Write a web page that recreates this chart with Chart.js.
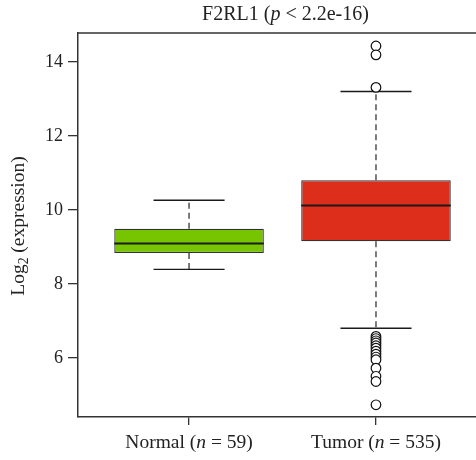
<!DOCTYPE html>
<html>
<head>
<meta charset="utf-8">
<script src="https://cdn.jsdelivr.net/npm/chart.js@4"></script>
<style>
  html, body { margin: 0; padding: 0; background: #fff; overflow: hidden; }
  #wrap { width: 476px; height: 460px; }
</style>
</head>
<body>
<div id="wrap"><canvas id="boxChart"></canvas></div>
<script>
// F2RL1 expression, normal vs tumor
var categories = ['Normal', 'Tumor'];
var sampleSizes = [59, 535];
var lowerWhisker = [8.39, 6.80];
var q1 = [8.83, 9.15];
var medians = [9.09, 10.12];
var q3 = [9.49, 10.80];
var upperWhisker = [10.26, 13.20];
var tumorOutliers = [14.43, 14.19, 13.31, 6.58, 6.52, 6.46, 6.40, 6.33, 6.26, 6.18, 6.10, 6.02, 5.95, 5.72, 5.50, 5.36, 4.73];
var yTicks = [6, 8, 10, 12, 14];
var boxColors = ['#76c500', '#dd2d1b'];

var serif = '"Liberation Serif", "DejaVu Serif", serif';
var ink = '#222';

var boxData = categories.map(function (c, i) { return { x: i + 1, y: [q1[i], q3[i]] }; });

var whiskerData = [], capData = [], medianData = [];
categories.forEach(function (c, i) {
    var x = i + 1;
    whiskerData.push({ x: x, y: q3[i] }, { x: x, y: upperWhisker[i] }, { x: x, y: null });
    whiskerData.push({ x: x, y: q1[i] }, { x: x, y: lowerWhisker[i] }, { x: x, y: null });
    capData.push({ x: x - 0.19, y: upperWhisker[i] }, { x: x + 0.19, y: upperWhisker[i] }, { x: x, y: null });
    capData.push({ x: x - 0.19, y: lowerWhisker[i] }, { x: x + 0.19, y: lowerWhisker[i] }, { x: x, y: null });
    medianData.push({ x: x - 0.4, y: medians[i] }, { x: x + 0.4, y: medians[i] }, { x: x, y: null });
});
var outlierData = tumorOutliers.map(function (v) { return { x: 2, y: v }; });

// draws a string made of pieces with their own font styles, centred on cx
function drawPieces(ctx, pieces, cx, cy, size) {
    var total = 0;
    pieces.forEach(function (p) {
        ctx.font = (p.italic ? 'italic ' : '') + (p.sub ? size * 0.7 : size) + 'px ' + serif;
        p.w = ctx.measureText(p.t).width;
        total += p.w;
    });
    var x = cx - total / 2;
    ctx.textAlign = 'left';
    ctx.textBaseline = 'middle';
    pieces.forEach(function (p) {
        ctx.font = (p.italic ? 'italic ' : '') + (p.sub ? size * 0.7 : size) + 'px ' + serif;
        ctx.fillText(p.t, x, cy + (p.sub ? size * 0.3 : 0));
        x += p.w;
    });
}

var textPlugin = {
    id: 'textPlugin',
    afterDraw: function (chart) {
        var ctx = chart.ctx;
        var area = chart.chartArea;
        var xs = chart.scales.x;
        ctx.save();
        // top frame line
        ctx.strokeStyle = '#333';
        ctx.lineWidth = 1.5;
        ctx.beginPath();
        ctx.moveTo(area.left, area.top);
        ctx.lineTo(area.right, area.top);
        ctx.stroke();

        ctx.fillStyle = ink;
        drawPieces(ctx, [{ t: 'F2RL1 (' }, { t: 'p', italic: true }, { t: ' < 2.2e-16)' }], xs.getPixelForValue(1.5) + 3, 15, 20);

        categories.forEach(function (c, i) {
            drawPieces(ctx, [{ t: c + ' (' }, { t: 'n', italic: true }, { t: ' = ' + sampleSizes[i] + ')' }],
                xs.getPixelForValue(i + 1), area.bottom + 26, 19.5);
        });

        ctx.translate(19, 226);
        ctx.rotate(-Math.PI / 2);
        drawPieces(ctx, [{ t: 'Log' }, { t: '2', sub: true }, { t: ' (expression)' }], 0, 0, 19.5);
        ctx.restore();
    }
};

var ctx = document.getElementById('boxChart').getContext('2d');
var myChart = new Chart(ctx, {
    type: 'bar',
    data: {
        datasets: [{
            type: 'line',
            data: medianData,
            borderColor: '#1a1a1a',
            borderWidth: 2,
            pointRadius: 0,
            order: 1
        }, {
            type: 'scatter',
            data: outlierData,
            pointRadius: 4.8,
            pointBackgroundColor: '#fff',
            pointBorderColor: '#111',
            pointBorderWidth: 1.2,
            order: 1
        }, {
            type: 'line',
            data: capData,
            borderColor: '#1a1a1a',
            borderWidth: 1.4,
            pointRadius: 0,
            order: 2
        }, {
            type: 'line',
            data: whiskerData,
            borderColor: '#444',
            borderWidth: 1.4,
            borderDash: [6, 4],
            pointRadius: 0,
            order: 2
        }, {
            data: boxData,
            backgroundColor: boxColors,
            borderColor: '#333',
            borderWidth: 1.3,
            borderSkipped: false,
            categoryPercentage: 1,
            barPercentage: 0.8,
            order: 3
        }]
    },
    options: {
        responsive: true,
        maintainAspectRatio: false,
        animation: false,
        layout: { autoPadding: false, padding: { top: 33, left: 0, right: 0, bottom: 0 } },
        plugins: {
            legend: { display: false },
            tooltip: { enabled: false },
            title: { display: false }
        },
        scales: {
            x: {
                type: 'linear',
                offset: false,
                min: 0.406,
                max: 2.535,
                afterBuildTicks: function (scale) {
                    scale.ticks = categories.map(function (c, i) { return { value: i + 1 }; });
                },
                afterFit: function (scale) {
                    scale.height = 43;
                    scale.paddingLeft = 0;
                    scale.paddingRight = 0;
                },
                ticks: { callback: function () { return ''; } },
                grid: { offset: false, drawOnChartArea: false, tickLength: 8, color: '#333', lineWidth: 1.3 },
                border: { color: '#333', width: 1.5 }
            },
            y: {
                min: 4.4,
                max: 14.78,
                afterBuildTicks: function (scale) {
                    scale.ticks = yTicks.map(function (v) { return { value: v }; });
                },
                afterFit: function (scale) {
                    scale.width = 78;
                    scale.paddingTop = 0;
                    scale.paddingBottom = 0;
                },
                ticks: { font: { family: serif, size: 18 }, color: ink, padding: 5 },
                grid: { drawOnChartArea: false, tickLength: 10, color: '#333', lineWidth: 1.3 },
                border: { color: '#333', width: 1.5 }
            }
        }
    },
    plugins: [textPlugin]
});
</script>
</body>
</html>
